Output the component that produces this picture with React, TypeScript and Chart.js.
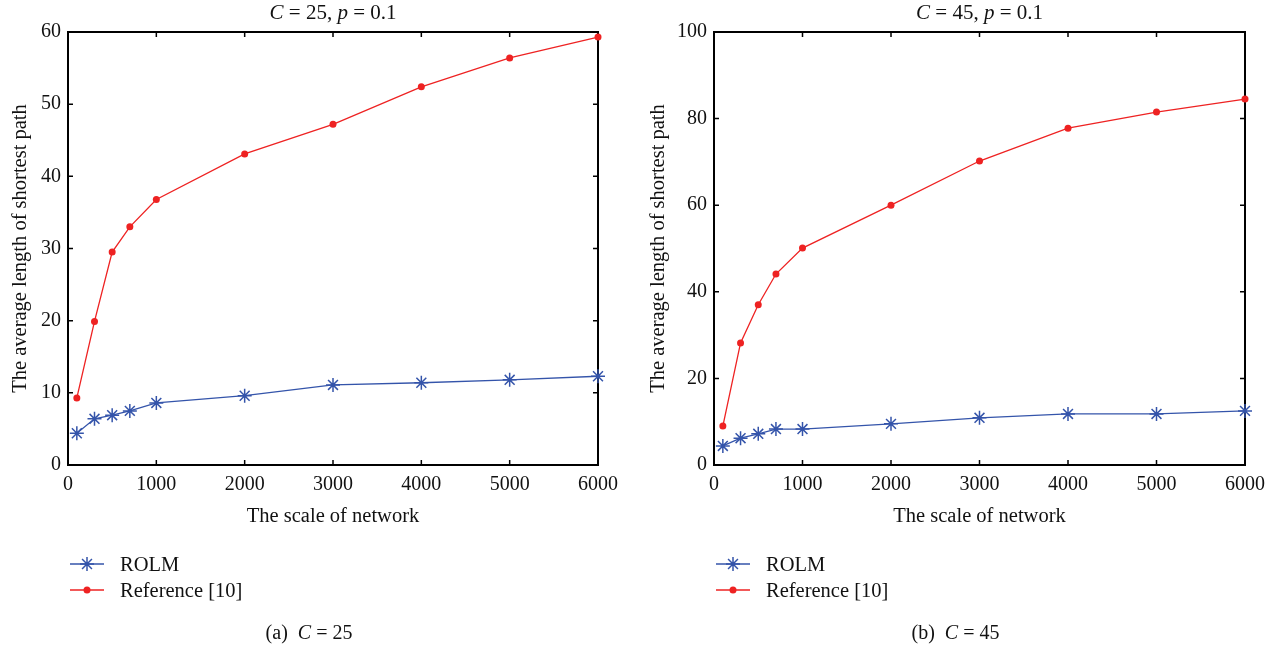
import React, { useEffect, useRef } from 'react';
import { Chart, registerables } from 'chart.js';

Chart.register(...registerables);

// ---------- data ----------
const networkScale = [100, 300, 500, 700, 1000, 2000, 3000, 4000, 5000, 6000];
const rolmC25 = [4.4, 6.4, 6.9, 7.5, 8.6, 9.6, 11.1, 11.4, 11.8, 12.3];
const refC25 = [9.3, 19.9, 29.5, 33.0, 36.8, 43.1, 47.2, 52.4, 56.4, 59.3];
const rolmC45 = [4.4, 6.2, 7.2, 8.3, 8.3, 9.5, 10.9, 11.8, 11.8, 12.5];
const refC45 = [9.0, 28.2, 37.0, 44.1, 50.1, 60.0, 70.2, 77.8, 81.5, 84.5];
const xTickValues = [0, 1000, 2000, 3000, 4000, 5000, 6000];
const yMaxC25 = 60;
const yStepC25 = 10;
const yMaxC45 = 100;
const yStepC45 = 20;
const seriesNames = ['ROLM', 'Reference [10]'];

const FONT = '"Liberation Serif", "DejaVu Serif", serif';
const BLUE = 'rgb(52, 84, 170)';
const RED = 'rgb(238, 34, 34)';
const TICK_SIZE = 20;
const TEXT_SIZE = 20.5;

type Seg = { t: string; i?: boolean };

function drawSegs(ctx: CanvasRenderingContext2D, segs: Seg[], cx: number, cy: number, size: number, align: 'center' | 'left' = 'center') {
  let total = 0;
  const widths = segs.map((s) => {
    ctx.font = `${s.i ? 'italic ' : ''}${size}px ${FONT}`;
    const w = ctx.measureText(s.t).width;
    total += w;
    return w;
  });
  let x = align === 'center' ? cx - total / 2 : cx;
  ctx.textBaseline = 'middle';
  ctx.textAlign = 'left';
  ctx.fillStyle = '#111';
  segs.forEach((s, k) => {
    ctx.font = `${s.i ? 'italic ' : ''}${size}px ${FONT}`;
    ctx.fillText(s.t, x, cy + 1.5);
    x += widths[k];
  });
}

function drawStar(ctx: CanvasRenderingContext2D, x: number, y: number, r: number, color: string) {
  ctx.save();
  ctx.strokeStyle = color;
  ctx.lineWidth = 1.5;
  ctx.beginPath();
  for (let a = 0; a < 4; a++) {
    const ang = (a * Math.PI) / 4;
    const dx = Math.sin(ang) * r;
    const dy = Math.cos(ang) * r;
    ctx.moveTo(x - dx, y - dy);
    ctx.lineTo(x + dx, y + dy);
  }
  ctx.stroke();
  ctx.restore();
}

function drawDot(ctx: CanvasRenderingContext2D, x: number, y: number, r: number, color: string) {
  ctx.save();
  ctx.fillStyle = color;
  ctx.beginPath();
  ctx.arc(x, y, r, 0, Math.PI * 2);
  ctx.fill();
  ctx.restore();
}

const framePlugin = {
  id: 'frameTicks',
  beforeDatasetsDraw(chart: any) {
    const { ctx, chartArea: a, scales } = chart;
    ctx.save();
    ctx.strokeStyle = '#000';
    ctx.lineWidth = 2;
    ctx.strokeRect(a.left, a.top, a.right - a.left, a.bottom - a.top);
    ctx.lineWidth = 1.5;
    const tl = 5;
    ctx.beginPath();
    scales.x.ticks.forEach((t: any) => {
      const px = scales.x.getPixelForValue(t.value);
      ctx.moveTo(px, a.bottom);
      ctx.lineTo(px, a.bottom - tl);
      ctx.moveTo(px, a.top);
      ctx.lineTo(px, a.top + tl);
    });
    scales.y.ticks.forEach((t: any) => {
      const py = scales.y.getPixelForValue(t.value);
      ctx.moveTo(a.left, py);
      ctx.lineTo(a.left + tl, py);
      ctx.moveTo(a.right, py);
      ctx.lineTo(a.right - tl, py);
    });
    ctx.stroke();
    ctx.restore();
  },
  afterDraw(chart: any) {
    const { ctx, chartArea: a } = chart;
    const o = chart.options.plugins.frameTicks;
    const cx = (a.left + a.right) / 2;
    ctx.save();
    drawSegs(ctx, o.title, cx, 12, 21);
    // legend
    const lx = a.left + 2;
    const rows = [
      { y: 564, color: BLUE, star: true },
      { y: 590, color: RED, star: false },
    ];
    rows.forEach((r, k) => {
      ctx.strokeStyle = r.color;
      ctx.lineWidth = 1.3;
      ctx.beginPath();
      ctx.moveTo(lx, r.y);
      ctx.lineTo(lx + 34, r.y);
      ctx.stroke();
      if (r.star) drawStar(ctx, lx + 17, r.y, 7, r.color);
      else drawDot(ctx, lx + 17, r.y, 3.5, r.color);
      drawSegs(ctx, [{ t: seriesNames[k] }], lx + 50, r.y, TEXT_SIZE, 'left');
    });
    drawSegs(ctx, o.caption, cx - 24, 632, 20);
    ctx.restore();
  },
};

function Panel(props: { rolm: number[]; ref10: number[]; yMax: number; yStep: number; yWidth: number; padRight: number; title: Seg[]; caption: Seg[]; left: number }) {
  const canvasRef = useRef<HTMLCanvasElement | null>(null);
  useEffect(() => {
    if (!canvasRef.current) return;
    const rolmPts = networkScale.map((x, k) => ({ x, y: props.rolm[k] }));
    const refPts = networkScale.map((x, k) => ({ x, y: props.ref10[k] }));
    const chart = new Chart(canvasRef.current, {
      type: 'line',
      data: {
        datasets: [
          {
            label: seriesNames[0],
            data: rolmPts,
            borderColor: BLUE,
            backgroundColor: BLUE,
            borderWidth: 1.3,
            pointStyle: 'star',
            pointRadius: 7,
            pointBorderWidth: 1.5,
            clip: false,
          },
          {
            label: seriesNames[1],
            data: refPts,
            borderColor: RED,
            backgroundColor: RED,
            borderWidth: 1.3,
            pointStyle: 'circle',
            pointRadius: 3.5,
            pointBorderWidth: 0,
            clip: false,
          },
        ],
      },
      options: {
        animation: false,
        responsive: false,
        events: [],
        layout: { padding: { left: 8, right: props.padRight, top: 32, bottom: 115 } },
        plugins: {
          legend: { display: false },
          title: { display: false },
          tooltip: { enabled: false },
          // @ts-ignore
          frameTicks: { title: props.title, caption: props.caption },
        },
        scales: {
          x: {
            type: 'linear',
            min: 0,
            max: 6000,
            afterBuildTicks: (s: any) => {
              s.ticks = xTickValues.map((v) => ({ value: v }));
            },
            afterFit: (s: any) => {
              s.height = 68;
            },
            grid: { display: false, drawTicks: false },
            border: { display: false },
            ticks: { color: '#111', font: { family: FONT, size: TICK_SIZE }, padding: 8, maxRotation: 0, autoSkip: false, callback: (v: any) => String(v) },
            title: { display: true, text: 'The scale of network', color: '#111', font: { family: FONT, size: TEXT_SIZE }, padding: { top: 4, bottom: 4 } },
          },
          y: {
            type: 'linear',
            min: 0,
            max: props.yMax,
            ticks: { stepSize: props.yStep, color: '#111', font: { family: FONT, size: TICK_SIZE }, padding: 7, callback: (v: any) => String(v) },
            afterFit: (s: any) => {
              s.width = props.yWidth;
            },
            grid: { display: false, drawTicks: false },
            border: { display: false },
            title: { display: true, text: 'The average length of shortest path', color: '#111', font: { family: FONT, size: TEXT_SIZE }, padding: { top: 0, bottom: 4 } },
          },
        },
      },
      plugins: [framePlugin],
    });
    return () => chart.destroy();
  }, []);
  return (
    <div style={{ position: 'absolute', left: props.left, top: 0, width: 638, height: 648 }}>
      <canvas ref={canvasRef} width={638} height={648} style={{ width: 638, height: 648, display: 'block' }} />
    </div>
  );
}

export default function App() {
  return (
    <div style={{ position: 'fixed', left: 0, top: 0, width: 1276, height: 648, background: '#fff', overflow: 'hidden' }}>
      <Panel
        left={0}
        rolm={rolmC25}
        ref10={refC25}
        yMax={yMaxC25}
        yStep={yStepC25}
        yWidth={60}
        padRight={40}
        title={[{ t: 'C', i: true }, { t: ' = 25, ' }, { t: 'p', i: true }, { t: ' = 0.1' }]}
        caption={[{ t: '(a)  ' }, { t: 'C', i: true }, { t: ' = 25' }]}
      />
      <Panel
        left={638}
        rolm={rolmC45}
        ref10={refC45}
        yMax={yMaxC45}
        yStep={yStepC45}
        yWidth={68}
        padRight={31}
        title={[{ t: 'C', i: true }, { t: ' = 45, ' }, { t: 'p', i: true }, { t: ' = 0.1' }]}
        caption={[{ t: '(b)  ' }, { t: 'C', i: true }, { t: ' = 45' }]}
      />
    </div>
  );
}
